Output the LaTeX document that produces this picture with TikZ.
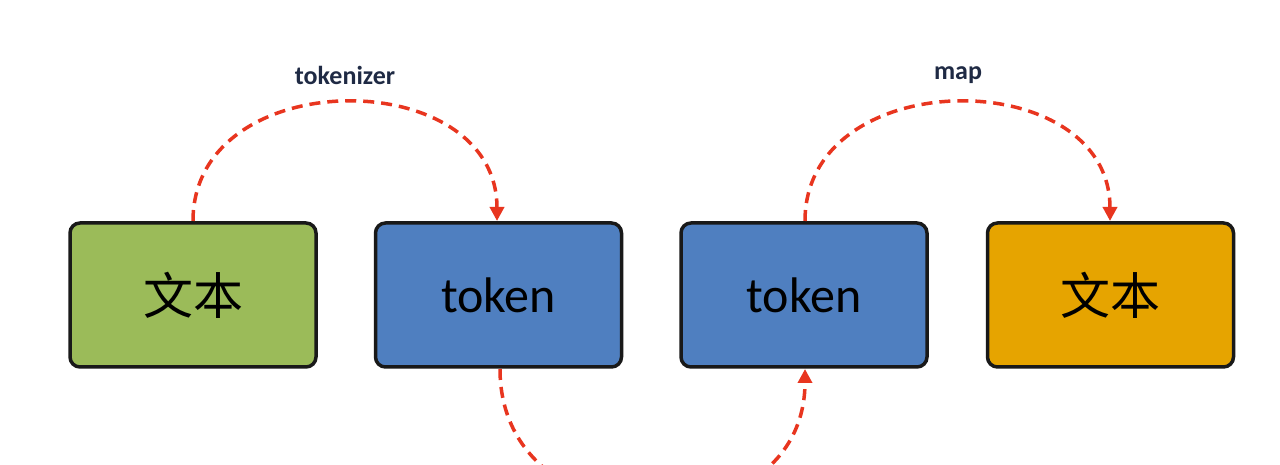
\documentclass[tikz,border=0pt]{standalone}
\usepackage{fontspec}
\setmainfont{Carlito}
\newfontfamily\cjk{Noto Sans CJK SC}
\usetikzlibrary{arrows.meta}
\definecolor{cgreen}{HTML}{9BBB59}
\definecolor{cblue}{HTML}{4F7FC0}
\definecolor{corange}{HTML}{E6A400}
\definecolor{cred}{HTML}{E8351F}
\definecolor{clab}{HTML}{1F2A44}
\begin{document}
\begin{tikzpicture}[x=1pt,y=1pt,
  boxst/.style={draw=black!90,line width=3.5pt,rounded corners=10pt,minimum width=246pt,minimum height=144pt,font=\fontsize{50}{52}\selectfont},
  arcst/.style={draw=cred,line width=3.5pt,dash pattern=on 11pt off 7pt,-{Triangle[length=14pt,width=14pt]}},
  lab/.style={font=\fontsize{26}{28}\selectfont\bfseries,text=clab}]
\useasboundingbox[fill=white] (0,0) rectangle (1280,465);
\node[boxst,fill=cgreen] (a) at (193,170) {\cjk 文本};
\node[boxst,fill=cblue] (b) at (498.5,170) {token};
\node[boxst,fill=cblue] (c) at (804,170) {token};
\node[boxst,fill=corange] (d) at (1110.5,170) {\cjk 文本};
\coordinate (a1) at (193,244);
\coordinate (b1) at (497,244);
\coordinate (b2) at (500,96);
\coordinate (c2) at (805,96);
\coordinate (c1) at (805,244);
\coordinate (d1) at (1110,244);
\draw[arcst] (a1) .. controls (193,402) and (497,402) .. (b1);
\draw[arcst] (b2) .. controls (500,-85) and (805,-85) .. (c2);
\draw[arcst] (c1) .. controls (805,402) and (1110,402) .. (d1);
\node[lab] (t1) at (345,390) {tokenizer};
\node[lab] (t2) at (958,390) {map};
\end{tikzpicture}
\end{document}
